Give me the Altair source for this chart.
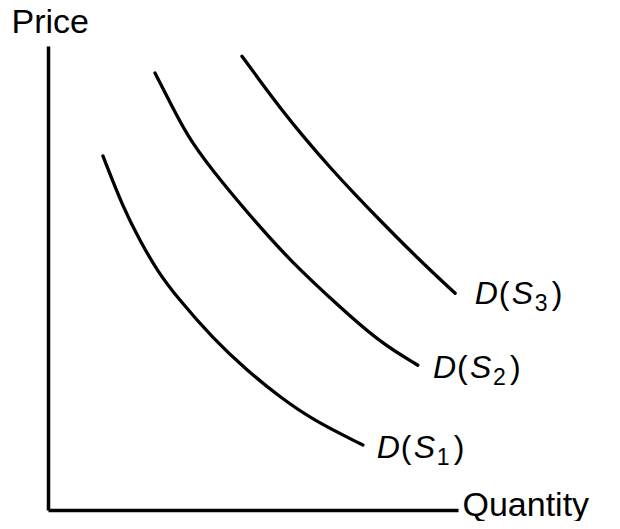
import altair as alt
import pandas as pd

# Demand curves (quantity, price), axes scaled 0-100
s1_q = [13.4, 18.3, 22.4, 26.6, 31.5, 40.2, 48.5, 56.6, 64.6, 76.8]
s1_p = [76.3, 65.2, 58.1, 51.6, 45.8, 37.0, 30.1, 24.3, 19.4, 14.0]

s2_q = [26.1, 30.2, 34.6, 42.7, 51.0, 59.0, 71.2, 81.0, 90.2]
s2_p = [94.2, 87.1, 79.6, 70.3, 61.7, 53.8, 43.7, 36.1, 31.2]

s3_q = [47.3, 51.7, 56.6, 62.7, 68.8, 74.9, 81.0, 90.2, 99.3]
s3_p = [97.8, 92.5, 86.7, 80.0, 73.8, 68.0, 62.4, 54.2, 46.7]

curve_names = ["D(S1)", "D(S2)", "D(S3)"]
label_subs = ["1", "2", "3"]
label_q = [80.2, 93.9, 104.1]
label_p = [11.2, 28.4, 44.5]

rows = []
for name, qs, ps in zip(curve_names, [s1_q, s2_q, s3_q], [s1_p, s2_p, s3_p]):
    for i, (q, p) in enumerate(zip(qs, ps)):
        rows.append({"curve": name, "idx": i, "q": q, "p": p})
curves = pd.DataFrame(rows)

labels = pd.DataFrame({"curve": curve_names, "sub": label_subs, "q": label_q, "p": label_p})

FONT = "Liberation Sans"

xscale = alt.Scale(domain=[0, 100], nice=False, zero=False)
yscale = alt.Scale(domain=[0, 100], nice=False, zero=False)

xaxis = alt.Axis(
    domain=True, ticks=False, labels=False, grid=False,
    domainColor="black", domainWidth=3.5,
    title="Quantity", titleAngle=0, titleAlign="left", titleBaseline="alphabetic",
    titleX=414, titleY=5, titleFont=FONT, titleFontSize=34, titleFontWeight="normal",
    titleColor="black",
)
yaxis = alt.Axis(
    domain=True, ticks=False, labels=False, grid=False,
    domainColor="black", domainWidth=3.5,
    title="Price", titleAngle=0, titleAlign="left", titleBaseline="alphabetic",
    titleX=-37, titleY=-14, titleFont=FONT, titleFontSize=34, titleFontWeight="normal",
    titleColor="black",
)

lines = alt.Chart(curves).mark_line(
    color="black", strokeWidth=3.3, interpolate="basis", strokeCap="round"
).encode(
    x=alt.X("q:Q", scale=xscale, axis=xaxis),
    y=alt.Y("p:Q", scale=yscale, axis=yaxis),
    detail="curve:N",
    order="idx:Q",
)

base = alt.Chart(labels).encode(
    x=alt.X("q:Q", scale=xscale),
    y=alt.Y("p:Q", scale=yscale),
)

def part(text, dx, italic=False, size=32, dy=0):
    kw = dict(font=FONT, fontSize=size, align="left", baseline="alphabetic",
              color="black", dx=dx, dy=dy)
    if italic:
        kw["fontStyle"] = "italic"
    return base.mark_text(**kw).encode(text=text)

t_d = part(alt.value("D"), 0, italic=True)
t_lp = part(alt.value("("), 24)
t_s = part(alt.value("S"), 37, italic=True)
t_sub = part(alt.Text("sub:N"), 60, size=23, dy=7)
t_rp = part(alt.value(")"), 77)

chart = alt.layer(lines, t_d, t_lp, t_s, t_sub, t_rp).properties(
    width=410,
    height=464,
    autosize=alt.AutoSizeParams(type="none"),
    padding={"left": 40, "top": 38, "right": 154, "bottom": 11},
).configure(background="white").configure_view(strokeWidth=0, stroke="transparent")

chart.save("out.html", embed_options={"renderer": "svg", "actions": False})
